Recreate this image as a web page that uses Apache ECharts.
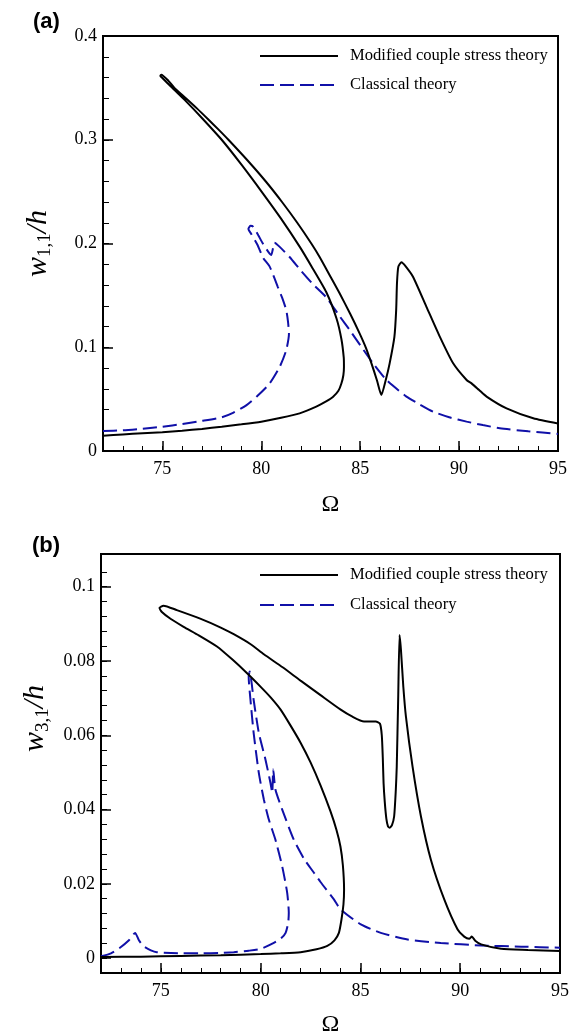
<!DOCTYPE html>
<html><head><meta charset="utf-8">
<script src="https://cdn.jsdelivr.net/npm/echarts@6/dist/echarts.min.js"></script>
<style>html,body{margin:0;padding:0;background:#fff}#c{width:577px;height:1036px}</style>
</head><body><div id="c"></div>
<script>
const seriesNames = ['Modified couple stress theory', 'Classical theory'];
const panelLabels = ['(a)', '(b)'];
const xMajorTicks = [75, 80, 85, 90, 95];
const xMinorTicks = [72,73,74,75,76,77,78,79,80,81,82,83,84,85,86,87,88,89,90,91,92,93,94,95];
const yMajorA = [0, 0.1, 0.2, 0.3, 0.4];
const yMinorA = [0,0.02,0.04,0.06,0.08,0.1,0.12,0.14,0.16,0.18,0.2,0.22,0.24,0.26,0.28,0.3,0.32,0.34,0.36,0.38,0.4];
const yMajorB = [0, 0.02, 0.04, 0.06, 0.08, 0.1];
const yMinorB = [0,0.004,0.008,0.012,0.016,0.02,0.024,0.028,0.032,0.036,0.04,0.044,0.048,0.052,0.056,0.06,0.064,0.068,0.072,0.076,0.08,0.084,0.088,0.092,0.096,0.1,0.104];

// (a) w11/h, modified couple stress theory
const mcsA = [[72,0.0148],[73,0.016],[74,0.017],[75,0.018],[76,0.0195],[77,0.0213],[78,0.0234],[79,0.0257],[80,0.0283],[81,0.032],[81.94,0.0363],[82.78,0.0427],[83.3,0.048],[83.62,0.052],[83.9,0.058],[84.05,0.065],[84.15,0.073],[84.18,0.081],[84.17,0.09],[84.05,0.108],[83.8,0.128],[83.29,0.153],[82.6,0.176],[81.94,0.197],[81.0,0.224],[80.08,0.2484],[79.0,0.276],[78.0,0.300],[77.0,0.321],[76.2,0.337],[75.5,0.350],[75.0,0.3595],[74.9,0.3615],[74.95,0.3627],[75.3,0.357],[75.61,0.35],[76.19,0.34],[76.76,0.33],[77.3,0.32],[77.83,0.31],[78.34,0.30],[79.31,0.28],[80.22,0.26],[81.05,0.24],[81.82,0.22],[82.53,0.20],[82.95,0.187],[83.5,0.168],[83.96,0.152],[84.5,0.132],[84.97,0.1134],[85.3,0.099],[85.57,0.0845],[85.85,0.068],[86.07,0.054],[86.3,0.069],[86.49,0.0845],[86.73,0.110],[86.82,0.136],[86.86,0.1616],[86.93,0.1777],[87.09,0.182],[87.3,0.178],[87.67,0.168],[88.35,0.139],[89.03,0.110],[89.7,0.0845],[90.38,0.0684],[90.63,0.0652],[91.0,0.059],[91.39,0.0524],[92.4,0.041],[93.75,0.0315],[95,0.0265]];
// (a) w11/h, classical theory
const clsA = [[72,0.0193],[73,0.020],[74,0.0215],[75,0.0234],[76,0.026],[77,0.029],[78,0.0325],[78.6,0.037],[79.24,0.044],[79.8,0.053],[80.42,0.065],[80.93,0.081],[81.26,0.097],[81.4,0.113],[81.35,0.125],[81.26,0.136],[81.05,0.148],[80.84,0.158],[80.42,0.178],[80.1,0.186],[79.8,0.199],[79.5,0.209],[79.35,0.214],[79.45,0.217],[79.6,0.216],[79.85,0.208],[80.08,0.2],[80.5,0.189],[80.6,0.196],[80.67,0.2008],[80.92,0.197],[81.43,0.187],[82.02,0.1735],[82.6,0.161],[83.29,0.148],[83.96,0.13],[84.47,0.1166],[85.0,0.102],[85.65,0.0845],[86.33,0.0684],[87.34,0.0524],[88.0,0.045],[88.69,0.0379],[89.5,0.0325],[90.38,0.0283],[91.2,0.025],[92.06,0.0219],[93.5,0.019],[95,0.0165]];
// (b) w31/h, modified couple stress theory
const mcsB = [[72,0.0003],[74,0.0004],[76,0.0006],[78,0.0008],[80,0.0011],[81,0.0013],[82,0.0016],[82.8,0.0024],[83.34,0.0033],[83.7,0.0048],[83.92,0.0068],[84.05,0.0104],[84.15,0.0145],[84.18,0.0185],[84.12,0.025],[84.0,0.030],[83.8,0.0345],[83.5,0.0395],[83.0,0.0465],[82.5,0.0527],[82.0,0.058],[81.5,0.0626],[81.0,0.0669],[80.5,0.0702],[79.99,0.0731],[79.32,0.0767],[78.6,0.0803],[77.81,0.0839],[76.9,0.0869],[76.14,0.0892],[75.5,0.0913],[75.05,0.0932],[74.93,0.0943],[75.13,0.0949],[75.8,0.0937],[76.97,0.0914],[78.0,0.089],[78.65,0.0872],[79.5,0.0845],[80.16,0.0818],[81.1,0.0783],[82.0,0.0747],[83.0,0.0708],[84.01,0.0669],[84.6,0.065],[85.18,0.0637],[85.77,0.0637],[85.98,0.0631],[86.07,0.060],[86.12,0.054],[86.16,0.0471],[86.22,0.042],[86.3,0.0375],[86.38,0.0355],[86.47,0.0351],[86.58,0.0358],[86.69,0.0382],[86.77,0.045],[86.82,0.0516],[86.89,0.0695],[86.96,0.087],[87.03,0.083],[87.15,0.073],[87.28,0.065],[87.61,0.0516],[88.03,0.0382],[88.53,0.0265],[89.2,0.0158],[89.87,0.0077],[90.2,0.0058],[90.45,0.0052],[90.58,0.0058],[90.75,0.0047],[91.05,0.0037],[92.05,0.0025],[93.39,0.0022],[95,0.0019]];
// (b) w31/h, classical theory
const clsB = [[72,0.0005],[72.5,0.0013],[72.95,0.0028],[73.4,0.0048],[73.71,0.0068],[73.9,0.0048],[74.13,0.0032],[74.5,0.0021],[74.8,0.0016],[76,0.0013],[77,0.0013],[78,0.0014],[78.65,0.0016],[79.4,0.002],[80,0.0025],[80.66,0.0041],[81.05,0.0055],[81.25,0.0068],[81.38,0.0095],[81.41,0.0122],[81.33,0.0176],[81.08,0.0247],[80.74,0.0319],[80.41,0.0373],[80.16,0.0427],[79.91,0.0498],[79.65,0.0606],[79.49,0.0695],[79.40,0.0758],[79.45,0.0772],[79.55,0.074],[79.65,0.0695],[79.91,0.0606],[80.24,0.0535],[80.49,0.0472],[80.58,0.0445],[80.63,0.0508],[80.74,0.0454],[81.08,0.04],[81.66,0.0319],[82.2,0.0265],[82.67,0.023],[83.0,0.0205],[83.67,0.0158],[84.01,0.0131],[85.02,0.0091],[86.02,0.0068],[87.36,0.005],[89.03,0.0041],[91.05,0.0034],[93.06,0.0031],[95,0.0028]];

const SERIF = 'Liberation Serif';
const BLUE = '#1010a8';
const tickLabel = {fontFamily: SERIF, fontSize: 18, color: '#000'};

function xAxes(g, gap) {
  return [
    {gridIndex: g, type: 'value', min: 72, max: 95, position: 'bottom',
     axisLine: {show: true, onZero: false, lineStyle: {color: '#000', width: 2}},
     axisTick: {show: true, inside: true, length: 10, customValues: xMajorTicks, lineStyle: {color: '#000', width: 1.5}},
     axisLabel: Object.assign({customValues: xMajorTicks, margin: 9}, tickLabel),
     splitLine: {show: false},
     name: 'Ω', nameLocation: 'middle', nameGap: gap,
     nameTextStyle: {fontFamily: SERIF, fontSize: 24, color: '#000'}},
    {gridIndex: g, type: 'value', min: 72, max: 95, position: 'bottom',
     axisLine: {show: false, onZero: false},
     axisTick: {show: true, inside: true, length: 5, customValues: xMinorTicks, lineStyle: {color: '#000', width: 1}},
     axisLabel: {show: false}, splitLine: {show: false}}
  ];
}
function yAxes(g, min, max, major, minor, sub, shift) {
  return [
    {gridIndex: g, type: 'value', min: min, max: max, position: 'left',
     axisLine: {show: true, onZero: false, lineStyle: {color: '#000', width: 2}},
     axisTick: {show: true, inside: true, length: 10, customValues: major, lineStyle: {color: '#000', width: 1.5}},
     axisLabel: Object.assign({customValues: major, margin: 6}, tickLabel),
     splitLine: {show: false},
     name: '{i|w}{s|' + sub + '}{i|/h}', nameLocation: 'middle', nameGap: 48, nameRotate: 90,
     nameTextStyle: {padding: [0, 0, 0, shift], rich: {
       i: {fontFamily: SERIF, fontStyle: 'italic', fontSize: 30, lineHeight: 34, color: '#000'},
       s: {fontFamily: SERIF, fontSize: 19, lineHeight: 19, verticalAlign: 'bottom', color: '#000'}}}},
    {gridIndex: g, type: 'value', min: min, max: max, position: 'left',
     axisLine: {show: false, onZero: false},
     axisTick: {show: true, inside: true, length: 6, customValues: minor, lineStyle: {color: '#000', width: 1}},
     axisLabel: {show: false}, splitLine: {show: false}}
  ];
}
function legendAt(top, gap) {
  return {orient: 'vertical', left: 259, top: top, padding: 0, itemWidth: 78, itemHeight: 14, itemGap: gap,
    selectedMode: false, data: seriesNames, itemStyle: {opacity: 0},
    textStyle: {fontFamily: SERIF, fontSize: 16.6, color: '#000', lineHeight: 18, padding: [0, 0, 0, 7]}};
}
function lines(xi, yi, mcs, cls) {
  return [
    {name: seriesNames[0], type: 'line', xAxisIndex: xi, yAxisIndex: yi, data: mcs, symbol: 'none',
     smooth: 0.2, lineStyle: {color: '#000', width: 2}, itemStyle: {color: '#000'}, z: 3},
    {name: seriesNames[1], type: 'line', xAxisIndex: xi, yAxisIndex: yi, data: cls, symbol: 'none',
     smooth: 0.2, lineStyle: {color: BLUE, width: 2, type: [14, 6]}, itemStyle: {color: BLUE}, z: 2}
  ];
}

const chart = echarts.init(document.getElementById('c'), null, {renderer: 'canvas'});
chart.setOption({
  animation: false,
  backgroundColor: '#fff',
  grid: [
    {left: 103, top: 36, width: 455, height: 415, show: true, borderColor: '#000', borderWidth: 2, outerBoundsMode: 'none', containLabel: false},
    {left: 101, top: 554, width: 459, height: 419, show: true, borderColor: '#000', borderWidth: 2, outerBoundsMode: 'none', containLabel: false}
  ],
  xAxis: xAxes(0, 42).concat(xAxes(1, 40)),
  yAxis: yAxes(0, 0, 0.4, yMajorA, yMinorA, '1,1', 0).concat(yAxes(1, -0.004, 0.1088, yMajorB, yMinorB, '3,1', 90)),
  legend: [legendAt(47, 11), legendAt(566, 12)],
  graphic: [
    {type: 'text', left: 33, top: 11, style: {text: panelLabels[0], font: 'bold 22px "Liberation Sans"', fill: '#000'}},
    {type: 'text', left: 32, top: 535, style: {text: panelLabels[1], font: 'bold 22px "Liberation Sans"', fill: '#000'}}
  ],
  series: lines(0, 0, mcsA, clsA).concat(lines(2, 2, mcsB, clsB))
});
</script></body></html>
